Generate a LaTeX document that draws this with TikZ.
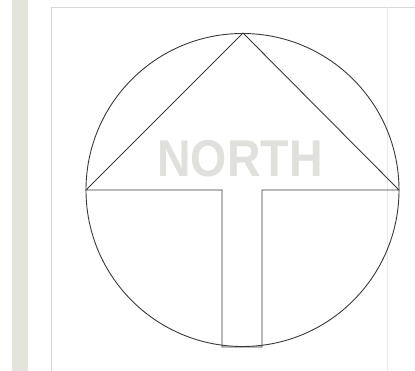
\documentclass[tikz,border=0pt]{standalone}
\usepackage{fontspec}
\setmainfont{Liberation Sans}
\definecolor{strip}{HTML}{E4E5DA}
\definecolor{framegray}{HTML}{D8D8D8}
\definecolor{textgray}{HTML}{E0E0DC}
\definecolor{inkgray}{HTML}{3A3A3A}
\tikzset{
  ink/.style={draw=inkgray, line width=0.9pt, line join=miter},
  faint/.style={draw=framegray, line width=0.6pt},
}
\begin{document}
\begin{tikzpicture}[x=1pt,y=-1pt]
\useasboundingbox[fill=white] (0,0) rectangle (415,371);
% left strip
\fill[strip] (12,0) rectangle (28,371);
% faint frame
\draw[faint] (51,371) -- (51,7) -- (415,7);
\draw[faint, draw=framegray!60] (387,7) -- (387,371);
% label
\node[text=textgray, font=\bfseries\fontsize{51.7}{52}\selectfont, xscale=0.9, inner sep=0] (lab) at (240,158.5) {NORTH};
% circle
\coordinate (c) at (242.5,190);
\draw[ink] (c) circle[radius=156.5];
% arrow
\coordinate (apex) at (243,33);
\coordinate (L) at (86,190);
\coordinate (R) at (399,190);
\coordinate (sl) at (222,190);
\coordinate (sr) at (262,190);
\coordinate (bl) at (222,347);
\coordinate (br) at (262,347);
\draw[ink] (L) -- (apex) -- (R) -- (sr) -- (br) -- (bl) -- (sl) -- cycle;
\end{tikzpicture}
\end{document}
